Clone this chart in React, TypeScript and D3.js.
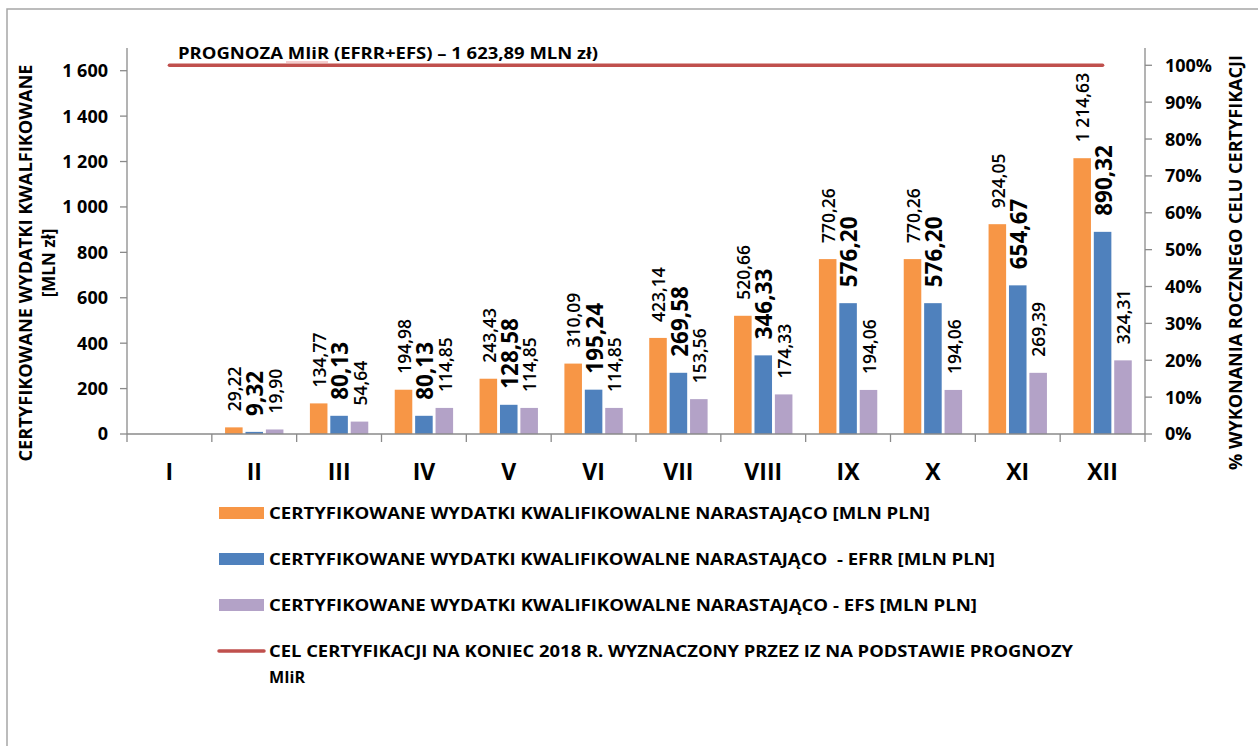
import React from 'react';
import * as d3 from 'd3';

const categories = ['I', 'II', 'III', 'IV', 'V', 'VI', 'VII', 'VIII', 'IX', 'X', 'XI', 'XII'];
const totalValues: (number | null)[] = [null, 29.22, 134.77, 194.98, 243.43, 310.09, 423.14, 520.66, 770.26, 770.26, 924.05, 1214.63];
const efrrValues: (number | null)[] = [null, 9.32, 80.13, 80.13, 128.58, 195.24, 269.58, 346.33, 576.2, 576.2, 654.67, 890.32];
const efsValues: (number | null)[] = [null, 19.9, 54.64, 114.85, 114.85, 114.85, 153.56, 174.33, 194.06, 194.06, 269.39, 324.31];
const leftTicks = [0, 200, 400, 600, 800, 1000, 1200, 1400, 1600];
const rightTicks = [0, 0.1, 0.2, 0.3, 0.4, 0.5, 0.6, 0.7, 0.8, 0.9, 1.0];
const targetValue = 1623.89;
const targetLabel = 'PROGNOZA MIiR (EFRR+EFS) – 1 623,89 MLN zł)';
const legendLabels = [
  'CERTYFIKOWANE WYDATKI KWALIFIKOWALNE NARASTAJĄCO [MLN PLN]',
  'CERTYFIKOWANE WYDATKI KWALIFIKOWALNE NARASTAJĄCO  - EFRR [MLN PLN]',
  'CERTYFIKOWANE WYDATKI KWALIFIKOWALNE NARASTAJĄCO - EFS [MLN PLN]',
];
const lineLegendLines = ['CEL CERTYFIKACJI NA KONIEC 2018 R. WYZNACZONY PRZEZ IZ NA PODSTAWIE PROGNOZY', 'MIiR'];
const leftTitle = ['CERTYFIKOWANE WYDATKI KWALFIKOWANE', '[MLN zł]'];
const rightTitle = '% WYKONANIA ROCZNEGO CELU CERTYFIKACJI';

const colors = ['#F79646', '#4F81BD', '#B3A2C7'];
const lineColor = '#C0504D';
const axisColor = '#8a8a8a';
const FONT = '"Open Sans", Lato, sans-serif';

const locale = d3.formatLocale({ decimal: ',', thousands: '\u00a0', grouping: [3], currency: ['', ''] });
const fmtTick = locale.format(',d');
const fmtVal = locale.format(',.2f');
const fmtPct = d3.format('.0%');

export default function App() {
  const W = 1258, H = 746;
  const left = 127, right = 1145, top = 48, bottom = 434;
  const yMax = 1700;
  const y = d3.scaleLinear().domain([0, yMax]).range([bottom, top]);
  const yR = d3.scaleLinear().domain([0, yMax / targetValue]).range([bottom, top]);
  const x0 = d3.scaleBand<string>().domain(categories).range([left, right]).paddingInner(0).paddingOuter(0);
  const bw = x0.bandwidth();
  const x1 = d3.scaleBand<number>().domain([0, 1, 2]).range([bw * 0.156, bw * 0.844]).paddingInner(0.14).paddingOuter(0);

  const series = [totalValues, efrrValues, efsValues];
  const labelStyles = [
    { size: 17.5, weight: 600 },
    { size: 22.5, weight: 700 },
    { size: 17.5, weight: 600 },
  ];

  const linePath = d3.line<string>()
    .x((c) => (x0(c) as number) + bw / 2)
    .y(() => y(targetValue))(categories) as string;

  const legendRows = [513, 559, 605];
  const legendLens = [661, 726, 708];

  return (
    <svg width={W} height={H} style={{ position: 'absolute', left: 0, top: 0, background: '#fff' }} fontFamily={FONT}>
      <rect x={7} y={9} width={W + 20} height={H + 20} fill="#fff" stroke="#a6a6a6" strokeWidth={1.5} />

      {/* bars */}
      {series.map((vals, si) => (
        <g key={si}>
          {categories.map((c, ci) => {
            const v = vals[ci];
            if (v == null) return null;
            const bx = (x0(c) as number) + (x1(si) as number);
            return <rect key={c} x={bx} y={y(v)} width={x1.bandwidth()} height={bottom - y(v)} fill={colors[si]} />;
          })}
        </g>
      ))}

      {/* bar labels */}
      {series.map((vals, si) => (
        <g key={'l' + si}>
          {categories.map((c, ci) => {
            const v = vals[ci];
            if (v == null) return null;
            const cx = (x0(c) as number) + (x1(si) as number) + x1.bandwidth() / 2 + 1;
            const ty = y(v) - 16;
            return (
              <text key={c} transform={`translate(${cx},${ty}) rotate(-90)`} dy="0.36em"
                fontSize={labelStyles[si].size} fontWeight={labelStyles[si].weight} fill="#000">
                {fmtVal(v)}
              </text>
            );
          })}
        </g>
      ))}

      {/* target line */}
      <path d={linePath} stroke={lineColor} strokeWidth={3.5} fill="none" strokeLinecap="round" />
      <text x={178} y={59} fontSize={16} fontWeight={700} textLength={420} lengthAdjust="spacingAndGlyphs">{targetLabel}</text>
      <line x1={286} x2={328} y1={62} y2={62} stroke="#eb9a9a" strokeWidth={1} />

      {/* left axis */}
      <line x1={left} x2={left} y1={top} y2={bottom} stroke={axisColor} strokeWidth={1.3} />
      {leftTicks.map((t) => (
        <g key={t}>
          <line x1={left - 7} x2={left} y1={y(t)} y2={y(t)} stroke={axisColor} strokeWidth={1.3} />
          <text x={108} y={y(t)} dy="0.36em" textAnchor="end" fontSize={18} fontWeight={700}>{fmtTick(t)}</text>
        </g>
      ))}

      {/* right axis */}
      <line x1={right} x2={right} y1={top} y2={bottom} stroke={axisColor} strokeWidth={1.3} />
      {rightTicks.map((t) => (
        <g key={t}>
          <line x1={right} x2={right + 7} y1={yR(t)} y2={yR(t)} stroke={axisColor} strokeWidth={1.3} />
          <text x={1165} y={yR(t)} dy="0.36em" fontSize={18} fontWeight={700} textLength={fmtPct(t).length > 3 ? 47 : undefined}
            lengthAdjust="spacingAndGlyphs">{fmtPct(t)}</text>
        </g>
      ))}

      {/* x axis */}
      <line x1={left} x2={right} y1={bottom} y2={bottom} stroke={axisColor} strokeWidth={1.3} />
      {categories.concat(['_end']).map((c, i) => {
        const xx = left + i * bw;
        return <line key={c} x1={xx} x2={xx} y1={bottom} y2={bottom + 8} stroke={axisColor} strokeWidth={1.3} />;
      })}
      {categories.map((c) => (
        <text key={c} x={(x0(c) as number) + bw / 2} y={480} textAnchor="middle" fontSize={23} fontWeight={700}>{c}</text>
      ))}

      {/* axis titles */}
      <text transform="translate(26,263) rotate(-90)" dy="0.36em" textAnchor="middle" fontSize={17} fontWeight={700}
        textLength={397} lengthAdjust="spacingAndGlyphs">{leftTitle[0]}</text>
      <text transform="translate(49,263) rotate(-90)" dy="0.36em" textAnchor="middle" fontSize={17} fontWeight={700}>{leftTitle[1]}</text>
      <text transform="translate(1235.5,262.5) rotate(-90)" dy="0.36em" textAnchor="middle" fontSize={17} fontWeight={700}
        textLength={415} lengthAdjust="spacingAndGlyphs">{rightTitle}</text>

      {/* legend */}
      {legendLabels.map((l, i) => (
        <g key={i}>
          <rect x={219} y={legendRows[i] - 6} width={45} height={12} fill={colors[i]} />
          <text x={269} y={legendRows[i] + 5.5} fontSize={16} fontWeight={700} style={{ whiteSpace: 'pre' }}
            textLength={legendLens[i]} lengthAdjust="spacingAndGlyphs">{l}</text>
        </g>
      ))}
      <line x1={219} x2={264} y1={651} y2={651} stroke={lineColor} strokeWidth={3.5} strokeLinecap="round" />
      <text x={269} y={656.5} fontSize={16} fontWeight={700} textLength={804} lengthAdjust="spacingAndGlyphs">{lineLegendLines[0]}</text>
      <text x={269} y={683} fontSize={16} fontWeight={700} textLength={36} lengthAdjust="spacingAndGlyphs">{lineLegendLines[1]}</text>
    </svg>
  );
}
